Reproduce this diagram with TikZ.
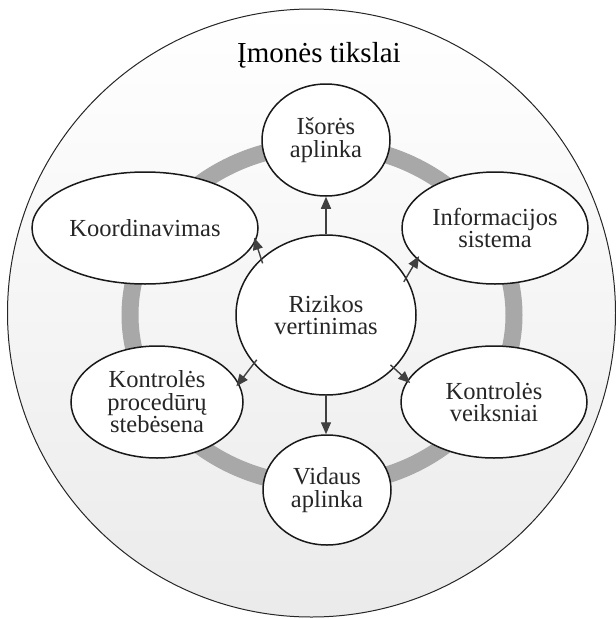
\documentclass[tikz,border=0pt]{standalone}
\usepackage{fontspec}
\setmainfont{Liberation Serif}
\usetikzlibrary{shapes.geometric,arrows.meta}
\begin{document}
\begin{tikzpicture}[x=1pt,y=-1pt,
  bubble/.style={ellipse,draw=black!90,line width=1.5pt,fill=white,inner sep=0pt,
    align=center,font=\fontsize{24.5}{22.5}\selectfont,text=black!85},
  arr/.style={draw=black!75,line width=1.4pt,-{Triangle[length=12pt,width=10pt]}},
  diag/.style={arr,shorten <=-5pt,shorten >=-4pt},
  ringline/.style={draw=black!34,line width=17pt}]
\useasboundingbox (0,0) rectangle (616,619);
\shade[top color=white,bottom color=black!8,draw=black!85,line width=1pt]
  (311.5,313) circle[radius=304pt];
\node[anchor=base,font=\fontsize{29}{30}\selectfont] (title) at (319,62) {Įmonės tikslai};
\draw[ringline] (322,315) ellipse[x radius=192pt,y radius=170pt];
\node[bubble,minimum width=128pt,minimum height=112pt] (iso) at (326,140) {Išorės\\aplinka};
\node[bubble,minimum width=226pt,minimum height=112pt] (koord) at (145,228) {Koordinavimas};
\node[bubble,minimum width=186pt,minimum height=112pt] (info) at (495,228) {Informacijos\\sistema};
\node[bubble,minimum width=172pt,minimum height=112pt] (kp) at (157,402) {Kontrolės\\procedūrų\\stebėsena};
\node[bubble,minimum width=186pt,minimum height=112pt] (kv) at (494,402) {Kontrolės\\veiksniai};
\node[bubble,minimum width=128pt,minimum height=110pt] (vid) at (327,490) {Vidaus\\aplinka};
\node[bubble,minimum width=180pt,minimum height=160pt] (riz) at (326,315) {Rizikos\\vertinimas};
\draw[arr] (riz.north) -- (riz.north |- iso.south);
\draw[diag] (riz.139) -- (koord.-7);
\draw[diag] (riz.25) -- (info.202);
\draw[diag] (riz.214) -- (kp.13);
\draw[diag] (riz.-38) -- (kv.166);
\draw[arr] (riz.south) -- (riz.south |- vid.north);
\end{tikzpicture}
\end{document}
